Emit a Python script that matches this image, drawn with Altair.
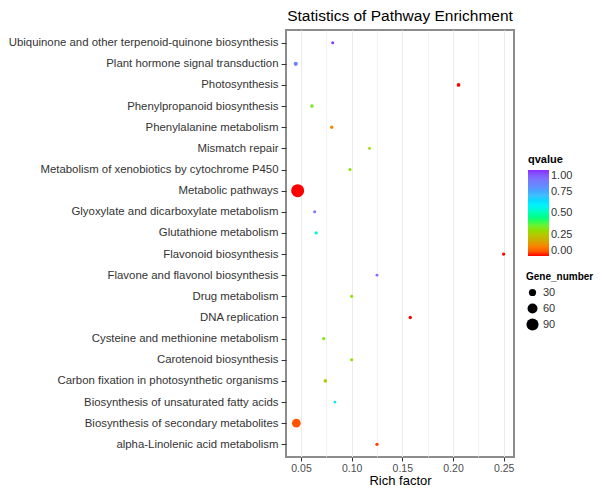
import altair as alt
import pandas as pd

pathways = [
    "Ubiquinone and other terpenoid-quinone biosynthesis",
    "Plant hormone signal transduction",
    "Photosynthesis",
    "Phenylpropanoid biosynthesis",
    "Phenylalanine metabolism",
    "Mismatch repair",
    "Metabolism of xenobiotics by cytochrome P450",
    "Metabolic pathways",
    "Glyoxylate and dicarboxylate metabolism",
    "Glutathione metabolism",
    "Flavonoid biosynthesis",
    "Flavone and flavonol biosynthesis",
    "Drug metabolism",
    "DNA replication",
    "Cysteine and methionine metabolism",
    "Carotenoid biosynthesis",
    "Carbon fixation in photosynthetic organisms",
    "Biosynthesis of unsaturated fatty acids",
    "Biosynthesis of secondary metabolites",
    "alpha-Linolenic acid metabolism",
]
rich_factor = [0.0813, 0.0448, 0.2055, 0.0608, 0.0803, 0.1176, 0.0983, 0.0467, 0.0635, 0.0650,
               0.2500, 0.1250, 0.1000, 0.1578, 0.0724, 0.1000, 0.0740, 0.0835, 0.0454, 0.1250]
qvalue = [0.98, 0.85, 0.00, 0.33, 0.12, 0.28, 0.30, 0.00, 0.88, 0.55,
          0.00, 0.90, 0.30, 0.00, 0.32, 0.30, 0.25, 0.62, 0.05, 0.03]
gene_number = [3, 8, 6, 5, 4, 2, 3, 105, 3, 4,
               4, 2, 3, 4, 4, 3, 5, 2, 45, 4]

x_ticks = [0.05, 0.075, 0.10, 0.125, 0.15, 0.175, 0.20, 0.225, 0.25]
q_stops = [0.0, 0.1, 0.2, 0.3, 0.4, 0.5, 0.6, 0.7, 0.8, 0.9, 1.0]
q_colors = ["#FF0000", "#FF7A00", "#C8B400", "#90E000", "#30FF50", "#00FFB0",
            "#00F0FF", "#40C0FF", "#6090FF", "#8070FF", "#8A2BFF"]

df = pd.DataFrame({
    "Pathway": pathways,
    "Rich factor": rich_factor,
    "qvalue": qvalue,
    "Gene_number": gene_number,
})

FONT = "Liberation Sans"
is_major = "round(datum.value*1000) % 50 === 0"

chart = alt.Chart(df).mark_circle(opacity=1).encode(
    x=alt.X(
        "Rich factor:Q",
        scale=alt.Scale(domain=[0.0352, 0.2602], nice=False, zero=False),
        axis=alt.Axis(
            values=x_ticks,
            labelExpr=f"{is_major} ? format(datum.value, '.2f') : ''",
            tickOpacity={"condition": {"test": is_major, "value": 1}, "value": 0},
            gridWidth={"condition": {"test": is_major, "value": 1}, "value": 0.6},
            gridColor="#EBEBEB",
            tickColor="#333333",
            tickSize=4,
            labelColor="#4D4D4D",
            labelFontSize=10.5,
            labelPadding=2,
            title="Rich factor",
            titleFontSize=13,
            titleFontWeight="normal",
            titleColor="#000000",
            titleBaseline="alphabetic",
            titleY=27,
            domain=False,
        ),
    ),
    y=alt.Y(
        "Pathway:N",
        sort=pathways,
        scale=alt.Scale(padding=0.6),
        axis=alt.Axis(
            title=None,
            labelColor="#333333",
            labelFontSize=11.4,
            labelPadding=3,
            labelLimit=400,
            tickColor="#333333",
            tickSize=5,
            gridColor="#EBEBEB",
            domain=False,
        ),
    ),
    color=alt.Color(
        "qvalue:Q",
        scale=alt.Scale(domain=q_stops, range=q_colors),
        legend=alt.Legend(
            orient="none",
            legendX=242,
            legendY=124,
            gradientLength=86,
            gradientThickness=21,
            values=[0, 0.25, 0.5, 0.75, 1.0],
            format=".2f",
            labelFontSize=11,
            labelColor="#333333",
            titleFontSize=11,
            titleFontWeight="bold",
            titleColor="#000000",
            gradientStrokeWidth=0,
            direction="vertical",
        ),
    ),
    size=alt.Size(
        "Gene_number:Q",
        scale=alt.Scale(domain=[2, 105], range=[8, 170], zero=False),
        legend=alt.Legend(
            orient="none",
            legendX=240,
            legendY=242,
            values=[30, 60, 90],
            symbolFillColor="#000000",
            symbolStrokeWidth=0,
            symbolType="circle",
            labelFontSize=11,
            labelColor="#333333",
            titleFontSize=10,
            titleFontWeight="bold",
            titleColor="#000000",
            titleLimit=200,
            rowPadding=4,
        ),
    ),
).properties(
    width=228,
    height=427,
    title=alt.TitleParams(
        "Statistics of Pathway Enrichment",
        fontSize=15.5,
        fontWeight="normal",
        color="#000000",
        anchor="middle",
        offset=6,
    ),
    autosize=alt.AutoSizeParams(type="none"),
    padding={"left": 278, "top": 22, "right": 80, "bottom": 31},
).configure(
    font=FONT,
).configure_view(
    stroke="#8C8C8C",
    strokeWidth=2,
)

chart.save("out.html", embed_options={"renderer": "svg", "actions": False})
